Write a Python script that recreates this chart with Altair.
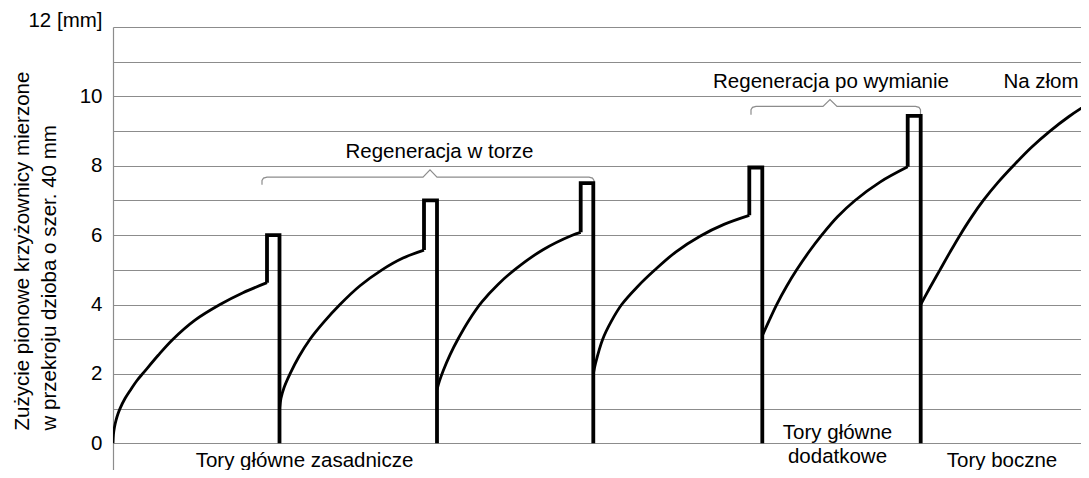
import altair as alt
import pandas as pd

FONT = "Liberation Sans"
FS = 20.5

# ---- data (x: service time, arbitrary units; y: wear in mm) ----
curve_x = [
    [0, 0.5, 1.5, 3, 5, 7, 12, 18, 24, 31, 45, 60, 82, 107, 130, 154],
    [166.5, 168, 171, 177, 186, 197, 211, 227, 247, 269, 290, 311],
    [324, 326.5, 330.3, 337, 345.3, 356, 368.7, 385, 403.7, 430, 458.7, 467.7],
    [480.3, 482.5, 489.7, 498, 508.7, 524, 542, 563, 587, 611, 636.3],
    [649.3, 656, 663.7, 673.5, 683.7, 696, 708.7, 724.5, 742, 767, 794.7],
    [807.7, 817, 827, 837, 847, 858.5, 870.3, 885, 900.3, 918, 937, 956, 976],
]
curve_y = [
    [0, 0.27, 0.47, 0.66, 0.85, 1.0, 1.29, 1.56, 1.81, 2.05, 2.53, 3.0, 3.55, 4.0, 4.34, 4.63],
    [1, 1.3, 1.6, 2.0, 2.5, 3.0, 3.5, 4.0, 4.54, 5.0, 5.34, 5.57],
    [1.55, 1.8, 2.1, 2.55, 3.02, 3.55, 4.07, 4.58, 5.05, 5.58, 5.99, 6.08],
    [2, 2.3, 3.0, 3.5, 4.0, 4.5, 5.0, 5.52, 5.97, 6.31, 6.57],
    [3.1, 3.53, 4.0, 4.52, 5.0, 5.52, 6.0, 6.53, 7.0, 7.53, 7.97],
    [4, 4.49, 5.0, 5.51, 6.0, 6.52, 7.0, 7.52, 8.0, 8.52, 9.0, 9.42, 9.8],
]
# regeneration / replacement spikes
spike_left = [154, 311, 467.7, 636.3, 794.7]
spike_right = [166.5, 324, 480.3, 649.3, 807.7]
spike_top = [6, 7, 7.5, 7.95, 9.44]

# braces: left, right, peak x; bar level, end level, peak level
brace_left = [149, 638]
brace_right = [481, 807.5]
brace_peak = [317, 717]
brace_bar = [7.67, 9.71]
brace_end = [7.45, 9.47]
brace_tip = [7.88, 9.91]

label_text = ["Regeneracja w torze", "Regeneracja po wymianie", "Na złom",
              "Tory główne zasadnicze", "Tory główne", "dodatkowe", "Tory boczne"]
label_x = [326.5, 718, 928, 191.5, 724.5, 724.5, 889]
label_y = [8.23, 10.24, 10.24, -0.68, 0.13, -0.57, -0.68]

y_ticks = list(range(0, 13))
y_title = ["Zużycie pionowe krzyżownicy mierzone", "w przekroju dzioba o szer. 40 mm"]

# ---- tables ----
rows = []
for i, (xs_, ys_) in enumerate(zip(curve_x, curve_y)):
    for j, (x, y) in enumerate(zip(xs_, ys_)):
        rows.append({"seg": i, "o": j, "x": x, "y": y})
curves = pd.DataFrame(rows)

rows = []
for i in range(len(spike_left)):
    y0 = curve_y[i][-1]
    pts = [(spike_left[i], y0), (spike_left[i], spike_top[i]),
           (spike_right[i], spike_top[i]), (spike_right[i], 0)]
    for j, (x, y) in enumerate(pts):
        rows.append({"seg": i, "o": j, "x": x, "y": y})
spikes = pd.DataFrame(rows)

rows = []
for i in range(len(brace_left)):
    l, r, p = brace_left[i], brace_right[i], brace_peak[i]
    b, e, t = brace_bar[i], brace_end[i], brace_tip[i]
    pts = [(l, e), (l, b - 0.09), (l + 1.5, b - 0.025), (l + 5, b),
           (p - 7, b), (p, t), (p + 7, b),
           (r - 5, b), (r - 1.5, b - 0.025), (r, b - 0.09), (r, e)]
    for j, (x, y) in enumerate(pts):
        rows.append({"seg": i, "o": j, "x": x, "y": y})
braces = pd.DataFrame(rows)

labels = pd.DataFrame({"t": label_text, "x": label_x, "y": label_y})

# ---- encodings ----
xs = alt.Scale(domain=[0, 968], nice=False, zero=False)
ys = alt.Scale(domain=[-0.77, 12], nice=False, zero=False)

y_axis = alt.Axis(
    values=y_ticks, grid=True, gridColor="#8c8c8c", gridWidth=1.2,
    ticks=False, tickSize=0, domain=True, domainColor="#8c8c8c", domainWidth=1.2,
    labelExpr="datum.value % 2 == 0 ? (datum.value == 12 ? '12 [mm]' : datum.label) : ''",
    labelOffset={"condition": {"test": "datum.value == 12", "value": -7}, "value": 0},
    labelFont=FONT, labelFontSize=FS, labelColor="#000", labelPadding=11,
    title=y_title, titleFont=FONT, titleFontSize=FS, titleFontWeight="normal",
    titleColor="#000", titleAngle=270, titleAlign="left", titleBaseline="top",
    titleX=-101, titleY=403, titleLineHeight=27,
)


def X():
    return alt.X("x:Q", scale=xs, axis=None)


def Y():
    return alt.Y("y:Q", scale=ys, axis=y_axis)


brace_layer = alt.Chart(braces).mark_line(color="#8c8c8c", strokeWidth=1.2).encode(
    x=X(), y=Y(), detail="seg:N", order="o:Q")

curve_layer = alt.Chart(curves).mark_line(
    color="#000", strokeWidth=2.8, interpolate="catmull-rom", clip=True).encode(
    x=X(), y=Y(), detail="seg:N", order="o:Q")

spike_layer = alt.Chart(spikes).mark_line(
    color="#000", strokeWidth=3.8, strokeJoin="miter", strokeCap="butt").encode(
    x=X(), y=Y(), detail="seg:N", order="o:Q")

text_layer = alt.Chart(labels).mark_text(
    font=FONT, fontSize=FS, color="#000", align="center", baseline="alphabetic").encode(
    x=X(), y=Y(), text="t:N")

chart = alt.layer(brace_layer, curve_layer, spike_layer, text_layer).properties(
    width=968, height=443,
    autosize=alt.AutoSizeParams(type="none"),
    padding={"left": 105, "top": 19, "right": 0, "bottom": 0},
    background="white",
).configure_view(stroke=None)

chart.save("out.html", embed_options={"renderer": "svg", "actions": False})
